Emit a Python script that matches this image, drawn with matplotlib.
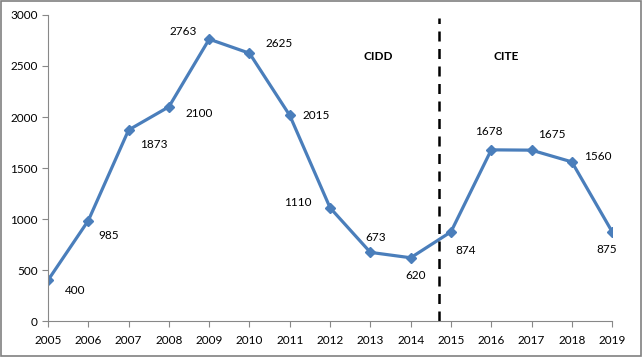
import matplotlib.pyplot as plt

years = [2005, 2006, 2007, 2008, 2009, 2010, 2011, 2012, 2013, 2014, 2015, 2016, 2017, 2018, 2019]
values = [400, 985, 1873, 2100, 2763, 2625, 2015, 1110, 673, 620, 874, 1678, 1675, 1560, 875]
# pixel offsets of each value label (dx, dy)
offsets = [(27, -10), (20, -15), (25, -15), (30, -7), (-26, 8), (30, 10), (26, 0), (-32, 5),
           (5, 15), (5, -18), (15, -19), (-2, 18), (20, 16), (26, 5), (-5, -18)]

plt.rcParams['font.family'] = ['Lato', 'DejaVu Sans']

fig = plt.figure(figsize=(6.43, 3.57), dpi=100)
ax = fig.add_axes([0.0747, 0.1008, 0.8773, 0.8572])

ax.plot(years, values, color='#4a7ebb', linewidth=2.3, marker='D', markersize=5)

for x, y, (dx, dy) in zip(years, values, offsets):
    ax.annotate(str(y), (x, y), xytext=(dx * 0.72, dy * 0.72), textcoords='offset points',
                ha='center', va='center', fontsize=8.5)

ax.plot([2014.7, 2014.7], [0, 2970], color='black', linestyle=(0, (4, 3)), linewidth=1.8)
ax.text(2013.2, 2590, 'CIDD', fontsize=8.5, fontweight='bold', ha='center', va='center')
ax.text(2016.36, 2590, 'CITE', fontsize=8.5, fontweight='bold', ha='center', va='center')

ax.set_xlim(2005, 2019)
ax.set_ylim(0, 3000)
ax.set_xticks(years)
ax.set_yticks(range(0, 3001, 500))
ax.tick_params(labelsize=8.5, colors='black', direction='out', length=4, width=0.8)
ax.tick_params(axis='x', pad=6)
for side in ['top', 'right']:
    ax.spines[side].set_visible(False)
for side in ['left', 'bottom']:
    ax.spines[side].set_color('#888888')
ax.tick_params(color='#888888')

fig.patches.append(plt.Rectangle((0.002, 0.003), 0.995, 0.994, transform=fig.transFigure,
                                 fill=False, edgecolor='#808080', linewidth=1.2))

fig.savefig('out.png', dpi=100)
